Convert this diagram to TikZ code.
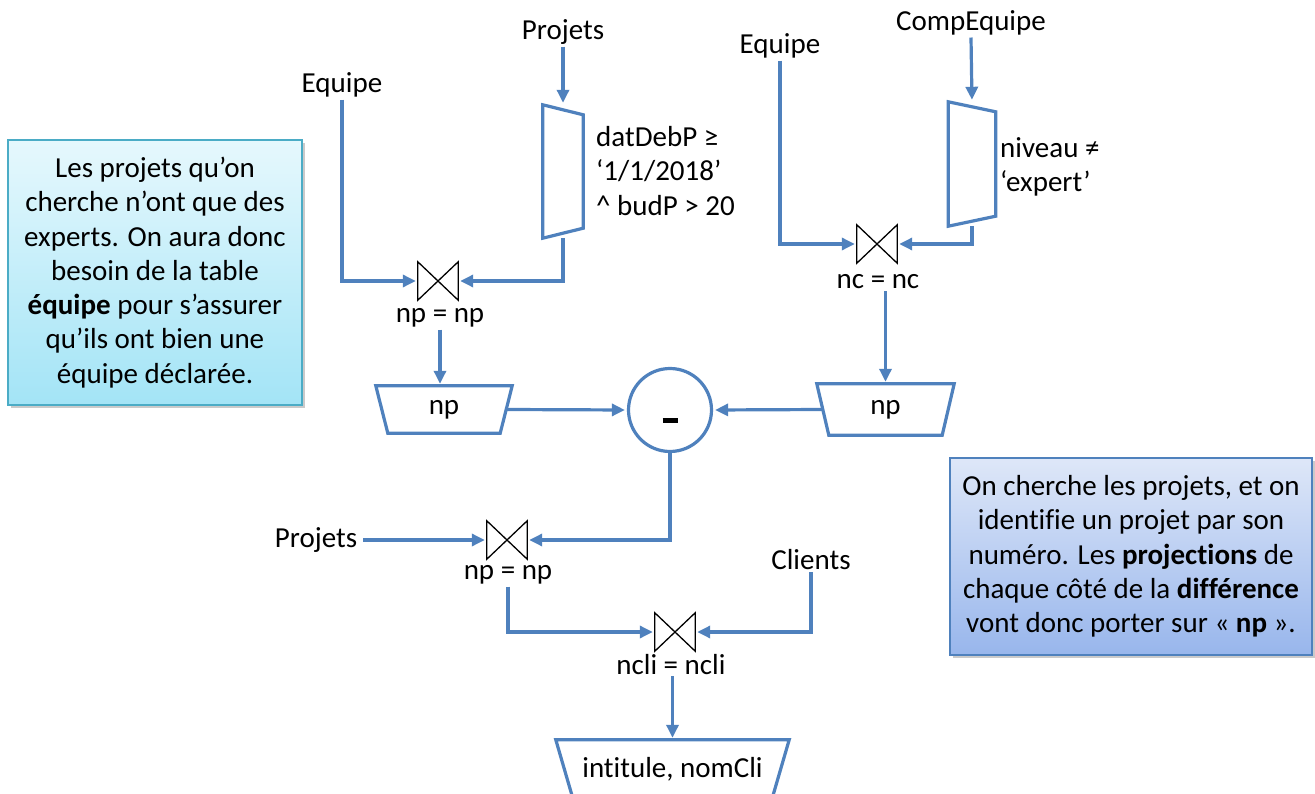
\documentclass[tikz,border=0pt]{standalone}
\usepackage{fontspec}
\setmainfont{Carlito}[Ligatures=NoCommon]
\usetikzlibrary{arrows.meta,shadows,calc}
\definecolor{flow}{RGB}{79,129,189}
\definecolor{tealedge}{RGB}{75,172,198}
\definecolor{tealtop}{RGB}{230,248,253}
\definecolor{tealbot}{RGB}{163,228,246}
\definecolor{bluetop}{RGB}{222,231,248}
\definecolor{bluebot}{RGB}{152,182,236}

% relational-algebra operator outlines, drawn from the anchors of a plain box
\newcommand\projshape[2]{\draw[opline] (#1.north west) -- (#1.north east)
  -- ([xshift=-#2]#1.south east) -- ([xshift=#2]#1.south west) -- cycle;}
\newcommand\selshape[2]{\draw[opline] (#1.north west) -- ([yshift=-#2]#1.north east)
  -- ([yshift=#2]#1.south east) -- (#1.south west) -- cycle;}
\newcommand\joinshape[1]{\draw[joinline] (#1.north west) -- (#1.south east)
  -- (#1.north east) -- (#1.south west) -- cycle;}

\begin{document}
\begin{tikzpicture}[x=1pt,y=-1pt,
  font=\fontsize{29}{34.3}\selectfont,
  every node/.style={inner sep=2pt},
  conn/.style={draw=flow,line width=3.2pt,-{Triangle[length=13pt,width=12pt]},shorten >=2pt},
  opline/.style={draw=flow,line width=3.2pt,line join=miter},
  joinline/.style={draw=black,line width=1.3pt},
  anchorbox/.style={rectangle,inner sep=0pt,minimum width=#1},
  joinbox/.style={rectangle,inner sep=0pt,minimum width=40pt,minimum height=38pt},
  diffnode/.style={circle,draw=flow,line width=3.2pt,minimum size=83pt,inner sep=0pt},
  notebox/.style={rectangle,align=center,inner sep=0pt,line width=1.3pt,
    drop shadow={shadow xshift=3pt,shadow yshift=-3pt,opacity=0.35,fill=black!60}},
]
\useasboundingbox (0,0) rectangle (1315,794);

% left note
\node[notebox,draw=tealedge,top color=tealtop,bottom color=tealbot,
  minimum width=294pt,minimum height=265pt] (noteL) at (155,272.5)
  {Les projets qu’on\\cherche n’ont que des\\experts. On aura donc\\besoin de la table\\
   \textbf{équipe} pour s’assurer\\qu’ils ont bien une\\équipe déclarée.};

% right note
\node[notebox,draw=flow,top color=bluetop,bottom color=bluebot,
  minimum width=362pt,minimum height=197pt] (noteR) at (1131,556.5)
  {On cherche les projets, et on\\identifie un projet par son\\numéro. Les \textbf{projections} de\\
   chaque côté de la \textbf{différence}\\vont donc porter sur « \textbf{np} ».};

% relation names
\node (eq1) at (342,85) {Equipe};
\node (pr1) at (563,32) {Projets};
\node (eq2) at (780,46) {Equipe};
\node (ce)  at (971,23) {CompEquipe};
\node (pr2) at (316,540) {Projets};
\node (cl)  at (811,560) {Clients};

% selections
\node[anchorbox=40pt,minimum height=133pt] (s1) at (563,171.5) {};
\selshape{s1}{10pt}
\node[anchor=west,align=left] (c1) at (594,171) {datDebP ≥\\‘1/1/2018’\\\^{} budP > 20};
\node[anchorbox=47pt,minimum height=124pt] (s2) at (972,164) {};
\selshape{s2}{10pt}
\node[anchor=west,align=left] (c2) at (998,167) {niveau ≠\\‘expert’};

% joins
\node[joinbox] (j1) at (438,281) {};  \joinshape{j1}
\node (l1) at (440,318) {np = np};
\node[joinbox] (j2) at (877,244) {};  \joinshape{j2}
\node (l2) at (878,282) {nc = nc};
\node[joinbox] (j3) at (507,540) {};  \joinshape{j3}
\node (l3) at (508,575) {np = np};
\node[joinbox] (j4) at (675,632) {};  \joinshape{j4}
\node (l4) at (671,665) {ncli = ncli};

% projections
\node[anchorbox=136pt,minimum height=47pt] (p1) at (444,409.5) {np};
\projshape{p1}{12pt}
\node[anchorbox=137pt,minimum height=51pt] (p2) at (885.5,409.5) {np};
\projshape{p2}{12pt}
\node[anchorbox=233pt,minimum height=58pt] (fin) at (672.5,769) {intitule, nomCli};
\projshape{fin}{17pt}

% difference
\node[diffnode] (diff) at (670,410) {};
\node[inner sep=0pt] (minus) at ([yshift=-10pt]diff.center) {\rule{15pt}{5pt}};

% flows
\draw[conn] (eq1.south) |- (j1.west);
\draw[conn] (pr1.south) -- (s1.north);
\draw[conn] (s1.south) |- (j1.east);
\draw[conn] (l1.south) -- (l1.south |- p1.north);
\draw[conn] (eq2.south) |- (j2.west);
\draw[conn] (ce.south) -- (s2.north);
\draw[conn] (s2.south) |- (j2.east);
\draw[conn] (p2.north |- l2.south) -- (p2.north);
\draw[conn] ([xshift=-6pt]p1.east) -- (diff.west);
\draw[conn] ([xshift=6pt]p2.west) -- (diff.east);
\draw[conn] (diff.south) |- (j3.east);
\draw[conn,shorten <=4pt] (pr2.east) -- (j3.west);
\draw[conn] (l3.south) |- (j4.west);
\draw[conn] (cl.south) |- (j4.east);
\draw[conn] (l4.south) -- (l4.south -| fin.north) -- (fin.north);
\end{tikzpicture}
\end{document}
